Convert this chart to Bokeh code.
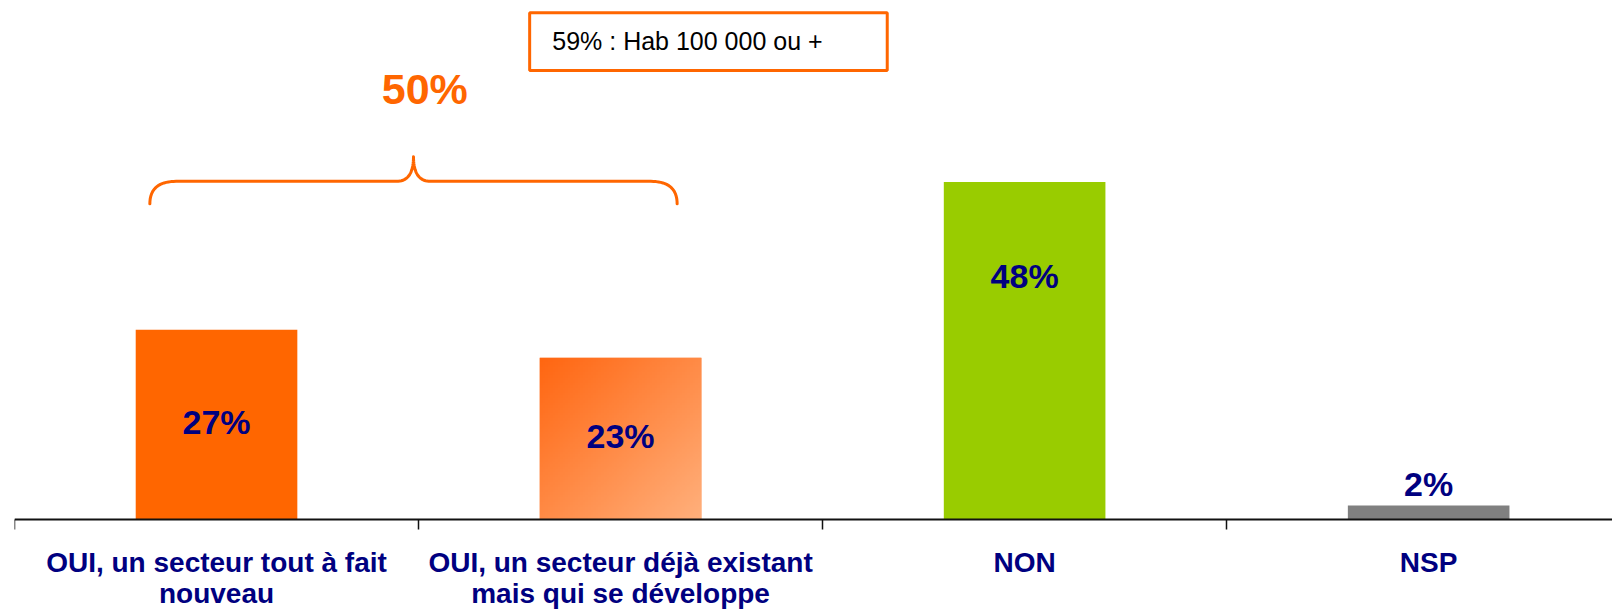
import numpy as np
from bokeh.plotting import figure
from bokeh.models import Range1d, LinearAxis, FixedTicker, ColumnDataSource
from bokeh.core.properties import value
from bokeh.embed import file_html
from bokeh.resources import INLINE

# ---------------- data ----------------
categories = [
    "OUI, un secteur tout à fait\nnouveau",
    "OUI, un secteur déjà existant\nmais qui se développe",
    "NON",
    "NSP",
]
values = [27, 23, 48, 2]
value_labels = ["27%", "23%", "48%", "2%"]
bar_colors = ["#FF6600", "#FF8A45", "#99CC00", "#808080"]
group_label = "50%"
note_text = "59% : Hab 100 000 ou +"

# ---------------- layout constants ----------------
FONT = "Liberation Sans"
NAVY = "#000080"
ORANGE = "#FF6600"
BAR_W = 0.4
xs = list(range(len(categories)))

p = figure(width=1612, height=611, output_backend="svg", toolbar_location=None,
           x_range=Range1d(-0.5, 3.455), y_range=Range1d(-13.09, 73.83),
           x_axis_location=None, y_axis_location=None,
           min_border_left=14, min_border_right=0, min_border_top=0, min_border_bottom=0)
p.outline_line_color = None
p.grid.visible = False
p.background_fill_color = "white"

# bars
src = ColumnDataSource(dict(x=xs, top=values, color=bar_colors))
p.vbar(x="x", top="top", width=BAR_W, bottom=0, fill_color="color", line_color=None, source=src)

# gradient overlay for second bar
n = 64
u = np.linspace(0, 1, n)[None, :]
v = np.linspace(0, 1, n)[:, None]
t = (u + 1 - v) / 2
c0 = np.array([255, 102, 17])
c1 = np.array([255, 176, 124])
img = np.empty((n, n), dtype=np.uint32)
view = img.view(dtype=np.uint8).reshape((n, n, 4))
for k in range(3):
    view[:, :, k] = (c0[k] + (c1[k] - c0[k]) * t).astype(np.uint8)
view[:, :, 3] = 255
p.image_rgba(image=[img], x=xs[1] - BAR_W / 2, y=0, dw=BAR_W, dh=values[1])

# value labels
label_y = [max(val / 2 + 0.4, val - 13.3) if val >= 10 else val + 3 for val in values]
p.text(x=xs, y=label_y, text=value_labels, text_align="center", text_baseline="middle",
       text_font=value(FONT), text_font_style="bold", text_font_size="34px", text_color=NAVY)

# axes: boundary ticks + category labels
tick_axis = LinearAxis(fixed_location=0,
                       ticker=FixedTicker(ticks=[x - 0.5 for x in xs] + [xs[-1] + 0.5]),
                       major_tick_out=10, major_tick_in=0,
                       axis_line_width=2, axis_line_color="#111111",
                       major_tick_line_width=1.5, major_tick_line_color="#111111",
                       minor_tick_line_color=None, major_label_text_alpha=0)
label_axis = LinearAxis(fixed_location=0, ticker=FixedTicker(ticks=xs),
                        major_label_overrides={i: c for i, c in zip(xs, categories)},
                        axis_line_color=None, major_tick_line_color=None, minor_tick_line_color=None,
                        major_tick_out=0, major_tick_in=0, major_label_standoff=28,
                        major_label_text_font=FONT, major_label_text_font_style="bold",
                        major_label_text_font_size="28px", major_label_text_color=NAVY,
                        major_label_text_line_height=1.0)
p.add_layout(tick_axis, "below")
p.add_layout(label_axis, "below")

# brace over the two "OUI" bars
bx0, bx1 = -0.165, 1.14
bc = (bx0 + bx1) / 2
y_end, y_h, y_tip = 44.9, 48.1, 51.6
curl_out, curl_in = 0.065, 0.042


def qbez(p0, c, p1, m=20):
    s = np.linspace(0, 1, m)
    x = (1 - s) ** 2 * p0[0] + 2 * (1 - s) * s * c[0] + s ** 2 * p1[0]
    y = (1 - s) ** 2 * p0[1] + 2 * (1 - s) * s * c[1] + s ** 2 * p1[1]
    return list(x), list(y)


segs = [
    qbez((bx0, y_end), (bx0, y_h), (bx0 + curl_out, y_h)),
    qbez((bc - curl_in, y_h), (bc, y_h), (bc, y_tip)),
    qbez((bc, y_tip), (bc, y_h), (bc + curl_in, y_h)),
    qbez((bx1 - curl_out, y_h), (bx1, y_h), (bx1, y_end)),
]
bxs, bys = [], []
for sx, sy in segs:
    bxs += sx
    bys += sy
p.line(bxs, bys, line_color=ORANGE, line_width=3, line_join="round", line_cap="round")

p.text(x=[bc + 0.028], y=[61.3], text=[group_label], text_align="center", text_baseline="middle",
       text_font=value(FONT), text_font_style="bold", text_font_size="43px", text_color=ORANGE)

# note box
p.quad(left=[0.775], right=[1.660], bottom=[63.87], top=[72.08],
       fill_color="white", line_color=ORANGE, line_width=3)
p.text(x=[0.831], y=[68.0], text=[note_text], text_align="left", text_baseline="middle",
       text_font=value(FONT), text_font_size="25px", text_color="black")

open("out.html", "w").write(file_html(p, INLINE))
